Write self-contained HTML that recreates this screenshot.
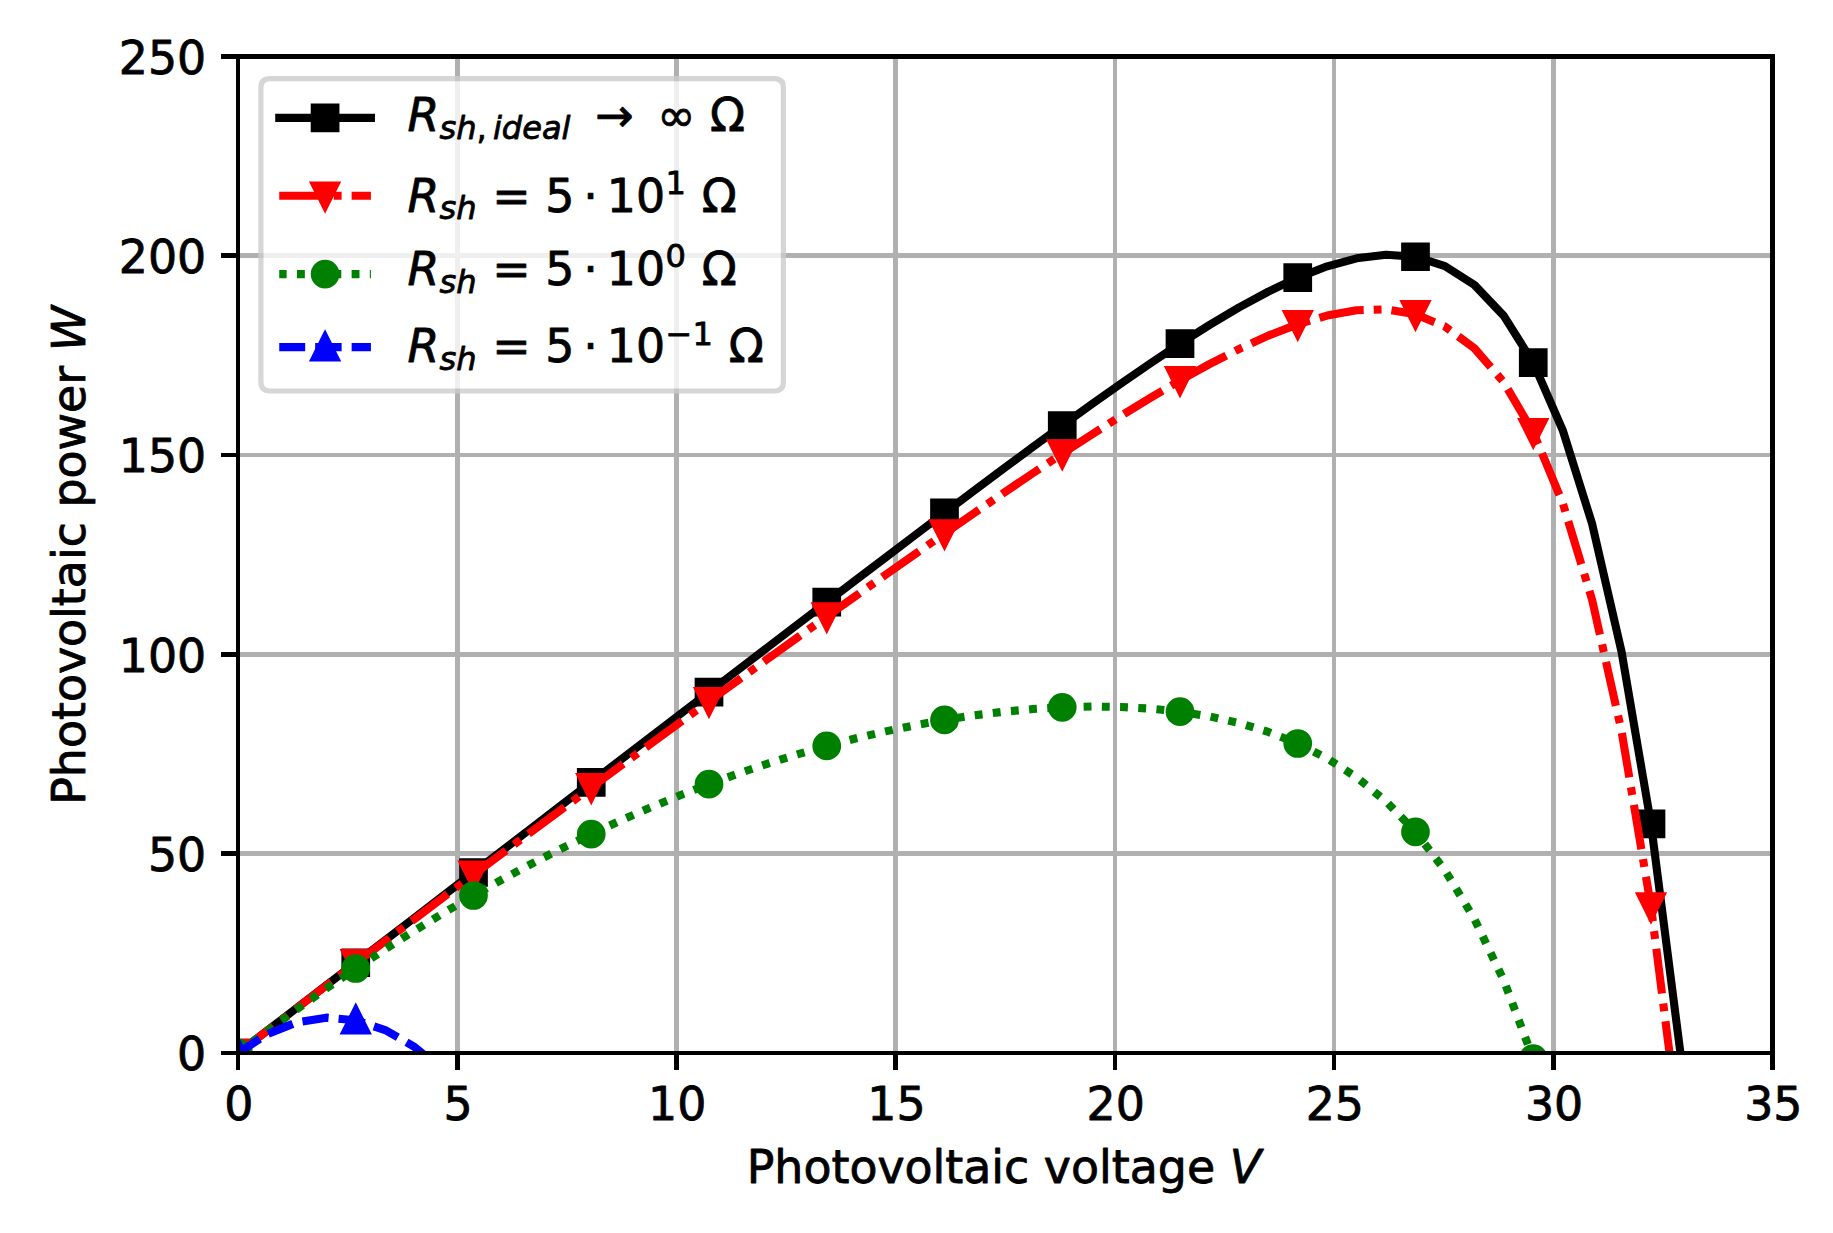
<!DOCTYPE html>
<html lang="en"><head><meta charset="utf-8"><title>Photovoltaic power vs voltage</title>
<style>html,body{margin:0;padding:0;background:#fff}svg{display:block}svg text{stroke:#000;stroke-width:0.18px;stroke-linejoin:round}</style></head>
<body>
<svg width="1833" height="1233" viewBox="0 0 399.927273 269.018182" version="1.1">
 <defs>
  <style type="text/css">*{stroke-linejoin: round; stroke-linecap: butt}</style>
 </defs>
 <g id="figure_1">
  <g id="patch_1">
   <path d="M 0 269.018182  L 399.927273 269.018182  L 399.927273 0  L 0 0  z " style="fill: #ffffff" />
  </g>
  <g id="axes_1">
   <g id="patch_2">
    <path d="M 51.927273 229.745455  L 386.727273 229.745455  L 386.727273 12.305455  L 51.927273 12.305455  z " style="fill: #ffffff" />
   </g>
   <g id="matplotlib.axis_1">
    <g id="xtick_1">
     <g transform="translate(0.1745 0.0000)"><g id="text_1">
      <text style="font-size: 10px; font-family: 'DejaVu Sans', sans-serif; text-anchor: middle" x="51.927273" y="244.452983" transform="rotate(-0 51.927273 244.452983)">0</text>
     </g>
    </g></g>
    <g id="xtick_2">
     <g transform="translate(0.1745 0.0000)"><g id="text_2">
      <text style="font-size: 10px; font-family: 'DejaVu Sans', sans-serif; text-anchor: middle" x="99.755844" y="244.452983" transform="rotate(-0 99.755844 244.452983)">5</text>
     </g>
    </g></g>
    <g id="xtick_3">
     <g transform="translate(0.1745 0.0000)"><g id="text_3">
      <text style="font-size: 10px; font-family: 'DejaVu Sans', sans-serif; text-anchor: middle" x="147.584416" y="244.452983" transform="rotate(-0 147.584416 244.452983)">10</text>
     </g>
    </g></g>
    <g id="xtick_4">
     <g transform="translate(0.1745 0.0000)"><g id="text_4">
      <text style="font-size: 10px; font-family: 'DejaVu Sans', sans-serif; text-anchor: middle" x="195.412987" y="244.452983" transform="rotate(-0 195.412987 244.452983)">15</text>
     </g>
    </g></g>
    <g id="xtick_5">
     <g transform="translate(0.1745 0.0000)"><g id="text_5">
      <text style="font-size: 10px; font-family: 'DejaVu Sans', sans-serif; text-anchor: middle" x="243.241558" y="244.452983" transform="rotate(-0 243.241558 244.452983)">20</text>
     </g>
    </g></g>
    <g id="xtick_6">
     <g transform="translate(0.1745 0.0000)"><g id="text_6">
      <text style="font-size: 10px; font-family: 'DejaVu Sans', sans-serif; text-anchor: middle" x="291.07013" y="244.452983" transform="rotate(-0 291.07013 244.452983)">25</text>
     </g>
    </g></g>
    <g id="xtick_7">
     <g transform="translate(0.1745 0.0000)"><g id="text_7">
      <text style="font-size: 10px; font-family: 'DejaVu Sans', sans-serif; text-anchor: middle" x="338.898701" y="244.452983" transform="rotate(-0 338.898701 244.452983)">30</text>
     </g>
    </g></g>
    <g id="xtick_8">
     <g transform="translate(0.1745 0.0000)"><g id="text_8">
      <text style="font-size: 10px; font-family: 'DejaVu Sans', sans-serif; text-anchor: middle" x="386.727273" y="244.452983" transform="rotate(-0 386.727273 244.452983)">35</text>
     </g>
    </g></g>
    <g transform="translate(-0.2618 0.4145)"><g id="text_9">
     <g transform="translate(163.177273 258.13267)">
      <text>
       <tspan x="0.000000" y="-0.406250" style="font-size: 10px; font-family: 'DejaVu Sans', sans-serif">Photovoltaic voltage</tspan><tspan x="105.385742" y="-0.406250" style="font-style: oblique; font-size: 10px; font-family: 'DejaVu Sans', sans-serif">V</tspan></text>
     </g>
    </g>
   </g></g>
   <g id="matplotlib.axis_2">
    <g id="ytick_1">
     <g transform="translate(0.1745 0.0000)"><g id="text_10">
      <text style="font-size: 10px; font-family: 'DejaVu Sans', sans-serif; text-anchor: end" x="44.818182" y="233.544673" transform="rotate(-0 44.818182 233.544673)">0</text>
     </g>
    </g></g>
    <g id="ytick_2">
     <g transform="translate(0.1745 0.0000)"><g id="text_11">
      <text style="font-size: 10px; font-family: 'DejaVu Sans', sans-serif; text-anchor: end" x="44.818182" y="190.056673" transform="rotate(-0 44.818182 190.056673)">50</text>
     </g>
    </g></g>
    <g id="ytick_3">
     <g transform="translate(0.1745 0.0000)"><g id="text_12">
      <text style="font-size: 10px; font-family: 'DejaVu Sans', sans-serif; text-anchor: end" x="44.818182" y="146.568673" transform="rotate(-0 44.818182 146.568673)">100</text>
     </g>
    </g></g>
    <g id="ytick_4">
     <g transform="translate(0.1745 0.0000)"><g id="text_13">
      <text style="font-size: 10px; font-family: 'DejaVu Sans', sans-serif; text-anchor: end" x="44.818182" y="103.080673" transform="rotate(-0 44.818182 103.080673)">150</text>
     </g>
    </g></g>
    <g id="ytick_5">
     <g transform="translate(0.1745 0.0000)"><g id="text_14">
      <text style="font-size: 10px; font-family: 'DejaVu Sans', sans-serif; text-anchor: end" x="44.818182" y="59.592673" transform="rotate(-0 44.818182 59.592673)">200</text>
     </g>
    </g></g>
    <g id="ytick_6">
     <g transform="translate(0.1745 0.0000)"><g id="text_15">
      <text style="font-size: 10px; font-family: 'DejaVu Sans', sans-serif; text-anchor: end" x="44.818182" y="16.104673" transform="rotate(-0 44.818182 16.104673)">250</text>
     </g>
    </g></g>
    <g transform="translate(-0.7418 0.1091)"><g id="text_16">
     <g transform="translate(19.630682 175.475455) rotate(-90)">
      <text>
       <tspan x="0.000000" y="-0.406250" style="font-size: 10px; font-family: 'DejaVu Sans', sans-serif">Photovoltaic power</tspan><tspan x="98.930664" y="-0.406250" style="font-style: oblique; font-size: 10px; font-family: 'DejaVu Sans', sans-serif">W</tspan></text>
     </g>
    </g>
   </g></g>
   <g id="grid" transform="scale(0.21818182)" shape-rendering="crispEdges"><rect x="236" y="56.5" width="4" height="996.5" fill="#b0b0b0" /><rect x="455" y="56.5" width="5" height="996.5" fill="#b0b0b0" /><rect x="674" y="56.5" width="5" height="996.5" fill="#b0b0b0" /><rect x="893" y="56.5" width="5" height="996.5" fill="#b0b0b0" /><rect x="1113" y="56.5" width="4" height="996.5" fill="#b0b0b0" /><rect x="1332" y="56.5" width="4" height="996.5" fill="#b0b0b0" /><rect x="1551" y="56.5" width="5" height="996.5" fill="#b0b0b0" /><rect x="1770" y="56.5" width="5" height="996.5" fill="#b0b0b0" /><rect x="238" y="1051" width="1534.5" height="4" fill="#b0b0b0" /><rect x="238" y="851" width="1534.5" height="5" fill="#b0b0b0" /><rect x="238" y="652" width="1534.5" height="5" fill="#b0b0b0" /><rect x="238" y="453" width="1534.5" height="4" fill="#b0b0b0" /><rect x="238" y="253" width="1534.5" height="5" fill="#b0b0b0" /><rect x="238" y="54" width="1534.5" height="5" fill="#b0b0b0" /></g><g id="line2d_29">
    <path d="M 51.927273 229.745455  L 58.349967 224.8225  L 64.77266 219.899575  L 71.195354 214.976691  L 77.618048 210.053865  L 84.040742 205.131117  L 90.463436 200.208477  L 96.88613 195.285984  L 103.308824 190.363691  L 109.731518 185.441668  L 116.154212 180.520006  L 122.576905 175.598831  L 128.999599 170.678306  L 135.422293 165.758648  L 141.844987 160.840142  L 148.267681 155.923167  L 154.690375 151.00822  L 161.113069 146.095953  L 167.535763 141.187227  L 173.958456 136.283165  L 180.38115 131.385245  L 186.803844 126.495397  L 193.226538 121.616147  L 199.649232 116.750794  L 206.071926 111.903646  L 212.49462 107.080322  L 218.917314 102.288143  L 225.340007 97.536647  L 231.762701 92.838247  L 238.185395 88.209087  L 244.608089 83.670153  L 251.030783 79.248708  L 257.453477 74.980147  L 263.876171 70.910405  L 270.298865 67.099056  L 276.721558 63.623332  L 283.144252 60.583305  L 289.566946 58.108588  L 295.98964 56.366979  L 302.412334 55.575624  L 308.835028 56.015415  L 315.257722 58.049568  L 321.680416 62.147574  L 328.103109 68.916085  L 334.525803 79.138714  L 340.948497 93.827328  L 347.371191 114.288111  L 353.793885 142.206665  L 360.216579 179.757573  L 366.639273 229.745455  " clip-path="url(#p07530aa999)" style="fill: none; stroke: #000000; stroke-width: 1.767273; stroke-linecap: square" />
    <defs>
     <path id="ma59012e045" d="M -2.5 2.5  L 2.5 2.5  L 2.5 -2.5  L -2.5 -2.5  z " style="stroke: #000000; stroke-width: 1.265455; stroke-linejoin: miter" />
    </defs>
    <g clip-path="url(#p07530aa999)">
     <use href="#ma59012e045" x="51.927273" y="229.745455" style="stroke: #000000; stroke-width: 1.265455; stroke-linejoin: miter" />
     <use href="#ma59012e045" x="77.618048" y="210.053865" style="stroke: #000000; stroke-width: 1.265455; stroke-linejoin: miter" />
     <use href="#ma59012e045" x="103.308824" y="190.363691" style="stroke: #000000; stroke-width: 1.265455; stroke-linejoin: miter" />
     <use href="#ma59012e045" x="128.999599" y="170.678306" style="stroke: #000000; stroke-width: 1.265455; stroke-linejoin: miter" />
     <use href="#ma59012e045" x="154.690375" y="151.00822" style="stroke: #000000; stroke-width: 1.265455; stroke-linejoin: miter" />
     <use href="#ma59012e045" x="180.38115" y="131.385245" style="stroke: #000000; stroke-width: 1.265455; stroke-linejoin: miter" />
     <use href="#ma59012e045" x="206.071926" y="111.903646" style="stroke: #000000; stroke-width: 1.265455; stroke-linejoin: miter" />
     <use href="#ma59012e045" x="231.762701" y="92.838247" style="stroke: #000000; stroke-width: 1.265455; stroke-linejoin: miter" />
     <use href="#ma59012e045" x="257.453477" y="74.980147" style="stroke: #000000; stroke-width: 1.265455; stroke-linejoin: miter" />
     <use href="#ma59012e045" x="283.144252" y="60.583305" style="stroke: #000000; stroke-width: 1.265455; stroke-linejoin: miter" />
     <use href="#ma59012e045" x="308.835028" y="56.015415" style="stroke: #000000; stroke-width: 1.265455; stroke-linejoin: miter" />
     <use href="#ma59012e045" x="334.525803" y="79.138714" style="stroke: #000000; stroke-width: 1.265455; stroke-linejoin: miter" />
     <use href="#ma59012e045" x="360.216579" y="179.757573" style="stroke: #000000; stroke-width: 1.265455; stroke-linejoin: miter" />
    </g>
   </g>
   <g id="line2d_30">
    <path d="M 51.927273 229.745455  L 58.349967 224.830342  L 64.77266 219.930943  L 71.195354 215.04727  L 77.618048 210.179337  L 84.040742 205.327168  L 90.463436 200.490791  L 96.88613 195.670244  L 103.308824 190.865582  L 109.731518 186.076873  L 116.154212 181.30421  L 122.576905 176.547718  L 128.999599 171.80756  L 135.422293 167.083952  L 141.844987 162.377182  L 148.267681 157.687626  L 154.690375 153.015782  L 161.113069 148.362303  L 167.535763 143.728048  L 173.958456 139.114142  L 180.38115 134.522061  L 186.803844 129.953737  L 193.226538 125.411694  L 199.649232 120.899234  L 206.071926 116.420662  L 212.49462 111.981597  L 218.917314 107.589362  L 225.340007 103.253495  L 231.762701 98.986407  L 238.185395 94.804243  L 244.608089 90.727989  L 251.030783 86.784908  L 257.453477 83.010396  L 263.876171 79.450387  L 270.298865 76.164454  L 276.721558 73.229831  L 283.144252 70.746589  L 289.566946 68.844341  L 295.98964 67.690885  L 302.412334 67.503367  L 308.835028 68.56268  L 315.257722 71.232037  L 321.680416 75.980933  L 328.103109 83.416017  L 334.525803 94.320904  L 340.948497 109.707459  L 347.371191 130.881868  L 353.793885 159.529731  L 360.216579 197.825634  L 366.639273 248.574193  " clip-path="url(#p07530aa999)" style="fill: none; stroke-dasharray: 9.818182,2.181818,1.718182,2.181818; stroke-dashoffset: 0.109091; stroke: #ff0000; stroke-width: 1.767273" />
    <defs>
     <path id="m5956c45358" d="M -0 2.5  L 2.5 -2.5  L -2.5 -2.5  z " style="stroke: #ff0000; stroke-width: 1.265455; stroke-linejoin: miter" />
    </defs>
    <g clip-path="url(#p07530aa999)">
     <use href="#m5956c45358" x="51.927273" y="229.745455" style="fill: #ff0000; stroke: #ff0000; stroke-width: 1.265455; stroke-linejoin: miter" />
     <use href="#m5956c45358" x="77.618048" y="210.179337" style="fill: #ff0000; stroke: #ff0000; stroke-width: 1.265455; stroke-linejoin: miter" />
     <use href="#m5956c45358" x="103.308824" y="190.865582" style="fill: #ff0000; stroke: #ff0000; stroke-width: 1.265455; stroke-linejoin: miter" />
     <use href="#m5956c45358" x="128.999599" y="171.80756" style="fill: #ff0000; stroke: #ff0000; stroke-width: 1.265455; stroke-linejoin: miter" />
     <use href="#m5956c45358" x="154.690375" y="153.015782" style="fill: #ff0000; stroke: #ff0000; stroke-width: 1.265455; stroke-linejoin: miter" />
     <use href="#m5956c45358" x="180.38115" y="134.522061" style="fill: #ff0000; stroke: #ff0000; stroke-width: 1.265455; stroke-linejoin: miter" />
     <use href="#m5956c45358" x="206.071926" y="116.420662" style="fill: #ff0000; stroke: #ff0000; stroke-width: 1.265455; stroke-linejoin: miter" />
     <use href="#m5956c45358" x="231.762701" y="98.986407" style="fill: #ff0000; stroke: #ff0000; stroke-width: 1.265455; stroke-linejoin: miter" />
     <use href="#m5956c45358" x="257.453477" y="83.010396" style="fill: #ff0000; stroke: #ff0000; stroke-width: 1.265455; stroke-linejoin: miter" />
     <use href="#m5956c45358" x="283.144252" y="70.746589" style="fill: #ff0000; stroke: #ff0000; stroke-width: 1.265455; stroke-linejoin: miter" />
     <use href="#m5956c45358" x="308.835028" y="68.56268" style="fill: #ff0000; stroke: #ff0000; stroke-width: 1.265455; stroke-linejoin: miter" />
     <use href="#m5956c45358" x="334.525803" y="94.320904" style="fill: #ff0000; stroke: #ff0000; stroke-width: 1.265455; stroke-linejoin: miter" />
     <use href="#m5956c45358" x="360.216579" y="197.825634" style="fill: #ff0000; stroke: #ff0000; stroke-width: 1.265455; stroke-linejoin: miter" />
    </g>
   </g>
   <g id="line2d_31">
    <path d="M 51.927273 229.745455  L 58.349967 224.900921  L 64.77266 220.213257  L 71.195354 215.682475  L 77.618048 211.308591  L 84.040742 207.091627  L 90.463436 203.031612  L 96.88613 199.128584  L 103.308824 195.382597  L 109.731518 191.79372  L 116.154212 188.362046  L 122.576905 185.0877  L 128.999599 181.970844  L 135.422293 179.011696  L 141.844987 176.210541  L 148.267681 173.567758  L 154.690375 171.083843  L 161.113069 168.75945  L 167.535763 166.595437  L 173.958456 164.59293  L 180.38115 162.753406  L 186.803844 161.078794  L 193.226538 159.571621  L 199.649232 158.235187  L 206.071926 157.073798  L 212.49462 156.093073  L 218.917314 155.300335  L 225.340007 154.70512  L 231.762701 154.319842  L 238.185395 154.160645  L 244.608089 154.248515  L 251.030783 154.610714  L 257.453477 155.282639  L 263.876171 156.310222  L 270.298865 157.75304  L 276.721558 159.688324  L 283.144252 162.216145  L 289.566946 165.466118  L 295.98964 169.606039  L 302.412334 174.853055  L 308.835028 181.488058  L 315.257722 189.874263  L 321.680416 200.481162  L 328.103109 213.915407  L 334.525803 230.960612  L 340.948497 252.628641  L 344.995587 270.018182  " clip-path="url(#p07530aa999)" style="fill: none; stroke-dasharray: 1.718182,2.256818; stroke-dashoffset: 0.109091; stroke: #008000; stroke-width: 1.767273" />
    <defs>
     <path id="mcb9512fded" d="M 0 2.5  C 0.663008 2.5 1.29895 2.236584 1.767767 1.767767  C 2.236584 1.29895 2.5 0.663008 2.5 0  C 2.5 -0.663008 2.236584 -1.29895 1.767767 -1.767767  C 1.29895 -2.236584 0.663008 -2.5 0 -2.5  C -0.663008 -2.5 -1.29895 -2.236584 -1.767767 -1.767767  C -2.236584 -1.29895 -2.5 -0.663008 -2.5 0  C -2.5 0.663008 -2.236584 1.29895 -1.767767 1.767767  C -1.29895 2.236584 -0.663008 2.5 0 2.5  z " style="stroke: #008000; stroke-width: 1.265455" />
    </defs>
    <g clip-path="url(#p07530aa999)">
     <use href="#mcb9512fded" x="51.927273" y="229.745455" style="fill: #008000; stroke: #008000; stroke-width: 1.265455" />
     <use href="#mcb9512fded" x="77.618048" y="211.308591" style="fill: #008000; stroke: #008000; stroke-width: 1.265455" />
     <use href="#mcb9512fded" x="103.308824" y="195.382597" style="fill: #008000; stroke: #008000; stroke-width: 1.265455" />
     <use href="#mcb9512fded" x="128.999599" y="181.970844" style="fill: #008000; stroke: #008000; stroke-width: 1.265455" />
     <use href="#mcb9512fded" x="154.690375" y="171.083843" style="fill: #008000; stroke: #008000; stroke-width: 1.265455" />
     <use href="#mcb9512fded" x="180.38115" y="162.753406" style="fill: #008000; stroke: #008000; stroke-width: 1.265455" />
     <use href="#mcb9512fded" x="206.071926" y="157.073798" style="fill: #008000; stroke: #008000; stroke-width: 1.265455" />
     <use href="#mcb9512fded" x="231.762701" y="154.319842" style="fill: #008000; stroke: #008000; stroke-width: 1.265455" />
     <use href="#mcb9512fded" x="257.453477" y="155.282639" style="fill: #008000; stroke: #008000; stroke-width: 1.265455" />
     <use href="#mcb9512fded" x="283.144252" y="162.216145" style="fill: #008000; stroke: #008000; stroke-width: 1.265455" />
     <use href="#mcb9512fded" x="308.835028" y="181.488058" style="fill: #008000; stroke: #008000; stroke-width: 1.265455" />
     <use href="#mcb9512fded" x="334.525803" y="230.960612" style="fill: #008000; stroke: #008000; stroke-width: 1.265455" />
     <use href="#mcb9512fded" x="360.216579" y="360.438179" style="fill: #008000; stroke: #008000; stroke-width: 1.265455" />
    </g>
   </g>
   <g id="line2d_32">
    <path d="M 51.927273 229.745455  L 58.349967 225.606704  L 64.77266 223.036391  L 71.195354 222.034528  L 77.618048 222.601129  L 84.040742 224.736217  L 90.463436 228.439822  L 96.88613 233.711981  L 103.308824 240.552748  L 109.731518 248.962193  L 116.154212 258.940408  L 122.315853 270.018182  " clip-path="url(#p07530aa999)" style="fill: none; stroke-dasharray: 5.768182,2.181818; stroke-dashoffset: 0.109091; stroke: #0000ff; stroke-width: 1.767273" />
    <defs>
     <path id="mdffd9af3ca" d="M 0 -2.5  L -2.5 2.5  L 2.5 2.5  z " style="stroke: #0000ff; stroke-width: 1.265455; stroke-linejoin: miter" />
    </defs>
    <g clip-path="url(#p07530aa999)">
     <use href="#mdffd9af3ca" x="51.927273" y="229.745455" style="fill: #0000ff; stroke: #0000ff; stroke-width: 1.265455; stroke-linejoin: miter" />
     <use href="#mdffd9af3ca" x="77.618048" y="222.601129" style="fill: #0000ff; stroke: #0000ff; stroke-width: 1.265455; stroke-linejoin: miter" />
     <use href="#mdffd9af3ca" x="103.308824" y="240.552748" style="fill: #0000ff; stroke: #0000ff; stroke-width: 1.265455; stroke-linejoin: miter" />
     <use href="#mdffd9af3ca" x="128.999599" y="283.603684" style="fill: #0000ff; stroke: #0000ff; stroke-width: 1.265455; stroke-linejoin: miter" />
     <use href="#mdffd9af3ca" x="154.690375" y="351.764448" style="fill: #0000ff; stroke: #0000ff; stroke-width: 1.265455; stroke-linejoin: miter" />
     <use href="#mdffd9af3ca" x="180.38115" y="445.066852" style="fill: #0000ff; stroke: #0000ff; stroke-width: 1.265455; stroke-linejoin: miter" />
     <use href="#mdffd9af3ca" x="206.071926" y="563.60516" style="fill: #0000ff; stroke: #0000ff; stroke-width: 1.265455; stroke-linejoin: miter" />
     <use href="#mdffd9af3ca" x="231.762701" y="707.654196" style="fill: #0000ff; stroke: #0000ff; stroke-width: 1.265455; stroke-linejoin: miter" />
     <use href="#mdffd9af3ca" x="257.453477" y="878.00506" style="fill: #0000ff; stroke: #0000ff; stroke-width: 1.265455; stroke-linejoin: miter" />
     <use href="#mdffd9af3ca" x="283.144252" y="1076.91171" style="fill: #0000ff; stroke: #0000ff; stroke-width: 1.265455; stroke-linejoin: miter" />
     <use href="#mdffd9af3ca" x="308.835028" y="1310.741842" style="fill: #0000ff; stroke: #0000ff; stroke-width: 1.265455; stroke-linejoin: miter" />
     <use href="#mdffd9af3ca" x="334.525803" y="1597.35769" style="fill: #0000ff; stroke: #0000ff; stroke-width: 1.265455; stroke-linejoin: miter" />
     <use href="#mdffd9af3ca" x="360.216579" y="1986.563627" style="fill: #0000ff; stroke: #0000ff; stroke-width: 1.265455; stroke-linejoin: miter" />
    </g>
   </g>
   <g id="frame" transform="scale(0.21818182)" shape-rendering="crispEdges"><rect x="236" y="1053" width="4" height="17" fill="#000" /><rect x="455" y="1053" width="5" height="17" fill="#000" /><rect x="674" y="1053" width="5" height="17" fill="#000" /><rect x="893" y="1053" width="5" height="17" fill="#000" /><rect x="1113" y="1053" width="4" height="17" fill="#000" /><rect x="1332" y="1053" width="4" height="17" fill="#000" /><rect x="1551" y="1053" width="5" height="17" fill="#000" /><rect x="1770" y="1053" width="5" height="17" fill="#000" /><rect x="221" y="1051" width="17" height="4" fill="#000" /><rect x="221" y="851" width="17" height="5" fill="#000" /><rect x="221" y="652" width="17" height="5" fill="#000" /><rect x="221" y="453" width="17" height="4" fill="#000" /><rect x="221" y="253" width="17" height="5" fill="#000" /><rect x="221" y="54" width="17" height="5" fill="#000" /><rect x="236" y="54" width="4" height="1001" fill="#000" /><rect x="1770" y="54" width="5" height="1001" fill="#000" /><rect x="236" y="54" width="1539" height="5" fill="#000" /><rect x="236" y="1051" width="1539" height="4" fill="#000" /></g><g id="legend_1">
    <g id="patch_7">
     <path d="M 58.924 85.309 L 168.924 85.309 Q 170.924 85.309 170.924 83.309 L 170.924 19.171 Q 170.924 17.171 168.924 17.171 L 58.924 17.171 Q 56.924 17.171 56.924 19.171 L 56.924 83.309 Q 56.924 85.309 58.924 85.309 z" style="fill: #ffffff; opacity: 0.8; stroke: #cccccc; stroke-width: 1.1345; stroke-linejoin: miter" />
    </g>
    <g transform="translate(0.0000 0.3197)"><g id="line2d_33">
     <path d="M 60.927273 25.403892  L 70.927273 25.403892  L 80.927273 25.403892  " style="fill: none; stroke: #000000; stroke-width: 1.767273; stroke-linecap: square" />
     <g>
      <use href="#ma59012e045" x="70.927273" y="25.403892" style="stroke: #000000; stroke-width: 1.265455; stroke-linejoin: miter" />
     </g>
    </g>
    </g><g transform="translate(0.0000 0.3902)"><g id="text_17">
     <g transform="translate(88.927273 28.903892)">
      <text>
       <tspan x="0.000000" y="-0.625000" style="font-style: oblique; font-size: 10px; font-family: 'DejaVu Sans', sans-serif">R</tspan><tspan x="6.948242" y="1.015625" style="font-style: oblique; font-size: 7px; font-family: 'DejaVu Sans', sans-serif">sh</tspan><tspan x="15.031738" y="1.015625" style="font-size: 7px; font-family: 'DejaVu Sans', sans-serif">,</tspan><tspan x="18.620605" y="1.015625" style="font-style: oblique; font-size: 7px; font-family: 'DejaVu Sans', sans-serif">ideal</tspan><tspan x="40.950195" y="-0.625000" style="font-size: 10px; font-family: 'DejaVu Sans', sans-serif">→</tspan><tspan x="54.456055" y="-0.625000" style="font-size: 10px; font-family: 'DejaVu Sans', sans-serif">∞ Ω</tspan></text>
     </g>
    </g>
    </g><g transform="translate(0.0000 1.0958)"><g id="line2d_34">
     <path d="M 60.927273 41.624205  L 70.927273 41.624205  L 80.927273 41.624205  " style="fill: none; stroke-dasharray: 9.818182,2.181818,1.718182,2.181818; stroke-dashoffset: 0.109091; stroke: #ff0000; stroke-width: 1.767273" />
     <g>
      <use href="#m5956c45358" x="70.927273" y="41.624205" style="fill: #ff0000; stroke: #ff0000; stroke-width: 1.265455; stroke-linejoin: miter" />
     </g>
    </g>
    </g><g transform="translate(0.0000 1.1508)"><g id="text_18">
     <g transform="translate(88.927273 45.124205)">
      <text>
       <tspan x="0.000000" y="-0.064063" style="font-style: oblique; font-size: 10px; font-family: 'DejaVu Sans', sans-serif">R</tspan><tspan x="6.948242" y="1.576562" style="font-style: oblique; font-size: 7px; font-family: 'DejaVu Sans', sans-serif">sh</tspan><tspan x="18.483887" y="-0.064063" style="font-size: 10px; font-family: 'DejaVu Sans', sans-serif">= 5</tspan><tspan x="38.352051" y="-0.064063" style="font-size: 10px; font-family: 'DejaVu Sans', sans-serif">⋅</tspan><tspan x="43.479004" y="-0.064063" style="font-size: 10px; font-family: 'DejaVu Sans', sans-serif">10</tspan><tspan x="56.299316" y="-3.892188" style="font-size: 7px; font-family: 'DejaVu Sans', sans-serif">1</tspan><tspan x="64.205078" y="-0.064063" style="font-size: 10px; font-family: 'DejaVu Sans', sans-serif">Ω</tspan></text>
     </g>
    </g>
    </g><g transform="translate(0.0000 2.2794)"><g id="line2d_35">
     <path d="M 60.927273 57.524205  L 70.927273 57.524205  L 80.927273 57.524205  " style="fill: none; stroke-dasharray: 1.718182,2.256818; stroke-dashoffset: 0.109091; stroke: #008000; stroke-width: 1.767273" />
     <g>
      <use href="#mcb9512fded" x="70.927273" y="57.524205" style="fill: #008000; stroke: #008000; stroke-width: 1.265455" />
     </g>
    </g>
    </g><g transform="translate(0.0000 2.1342)"><g id="text_19">
     <g transform="translate(88.927273 61.024205)">
      <text>
       <tspan x="0.000000" y="-0.976562" style="font-style: oblique; font-size: 10px; font-family: 'DejaVu Sans', sans-serif">R</tspan><tspan x="6.948242" y="0.664062" style="font-style: oblique; font-size: 7px; font-family: 'DejaVu Sans', sans-serif">sh</tspan><tspan x="18.483887" y="-0.976562" style="font-size: 10px; font-family: 'DejaVu Sans', sans-serif">= 5</tspan><tspan x="38.352051" y="-0.976562" style="font-size: 10px; font-family: 'DejaVu Sans', sans-serif">⋅</tspan><tspan x="43.479004" y="-0.976562" style="font-size: 10px; font-family: 'DejaVu Sans', sans-serif">10</tspan><tspan x="56.299316" y="-4.804688" style="font-size: 7px; font-family: 'DejaVu Sans', sans-serif">0</tspan><tspan x="64.205078" y="-0.976562" style="font-size: 10px; font-family: 'DejaVu Sans', sans-serif">Ω</tspan></text>
     </g>
    </g>
    </g><g transform="translate(0.0000 2.4067)"><g id="line2d_36">
     <path d="M 60.927273 73.324205  L 70.927273 73.324205  L 80.927273 73.324205  " style="fill: none; stroke-dasharray: 5.768182,2.181818; stroke-dashoffset: 0.109091; stroke: #0000ff; stroke-width: 1.767273" />
     <g>
      <use href="#mdffd9af3ca" x="70.927273" y="73.324205" style="fill: #0000ff; stroke: #0000ff; stroke-width: 1.265455; stroke-linejoin: miter" />
     </g>
    </g>
    </g><g transform="translate(0.0000 2.2435)"><g id="text_20">
     <g transform="translate(88.927273 76.824205)">
      <text>
       <tspan x="0.000000" y="-0.064063" style="font-style: oblique; font-size: 10px; font-family: 'DejaVu Sans', sans-serif">R</tspan><tspan x="6.948242" y="1.576562" style="font-style: oblique; font-size: 7px; font-family: 'DejaVu Sans', sans-serif">sh</tspan><tspan x="18.483887" y="-0.064063" style="font-size: 10px; font-family: 'DejaVu Sans', sans-serif">= 5</tspan><tspan x="38.352051" y="-0.064063" style="font-size: 10px; font-family: 'DejaVu Sans', sans-serif">⋅</tspan><tspan x="43.479004" y="-0.064063" style="font-size: 10px; font-family: 'DejaVu Sans', sans-serif">10</tspan><tspan x="56.299316" y="-3.892188" style="font-size: 7px; font-family: 'DejaVu Sans', sans-serif">−1</tspan><tspan x="70.070312" y="-0.064063" style="font-size: 10px; font-family: 'DejaVu Sans', sans-serif">Ω</tspan></text>
     </g>
    </g>
   </g></g>
  </g>
 </g>
 <defs>
  <clipPath id="p07530aa999">
   <rect x="51.927273" y="12.305455" width="334.8" height="217.44" />
  </clipPath>
 </defs>
</svg>
</body></html>
